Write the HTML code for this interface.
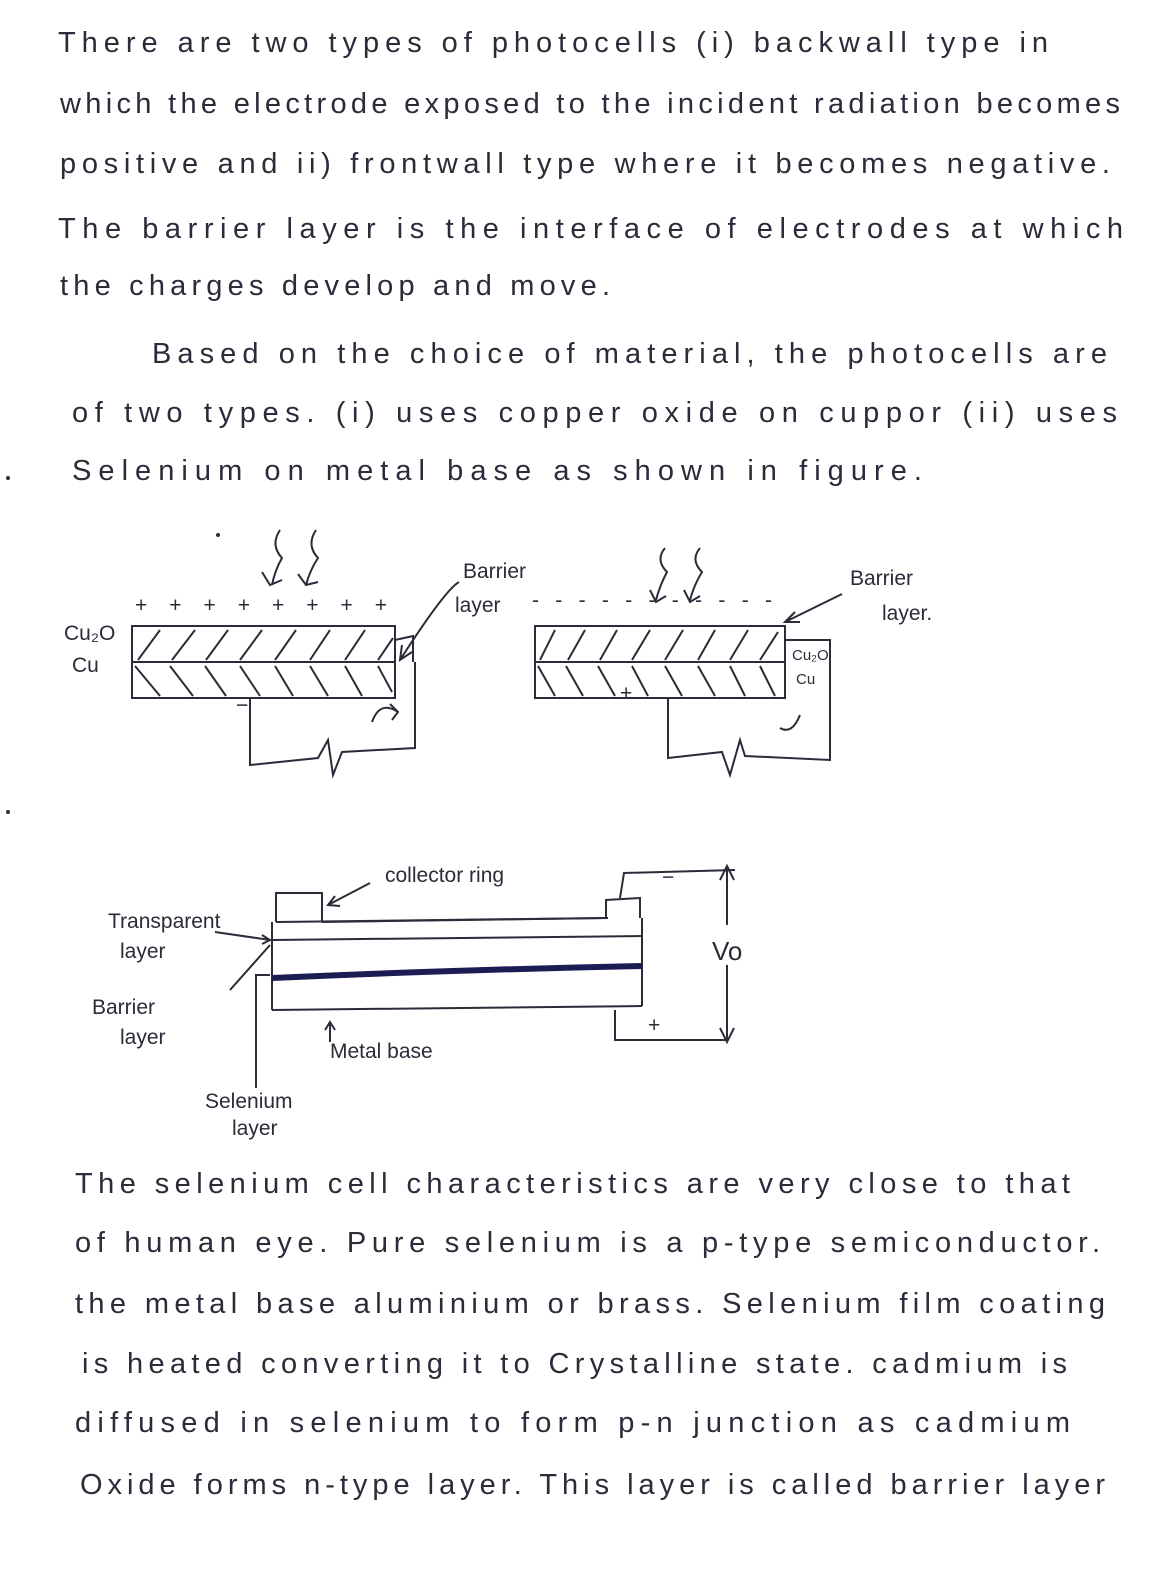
<!DOCTYPE html>
<html><head><meta charset="utf-8"><style>
html,body{margin:0;padding:0;background:#fff;}
svg{display:block}
text{font-family:"Liberation Sans","DejaVu Sans",sans-serif;fill:#2b2b3a;}
.t{font-size:29px;}
.s{font-size:21px;}
.xs{font-size:15px;}
</style></head><body>
<svg width="1149" height="1591" viewBox="0 0 1149 1591" xmlns="http://www.w3.org/2000/svg">
<rect width="1149" height="1591" fill="#fff"/>
<g class="t">
<text x="58" y="52" textLength="990" lengthAdjust="spacing">There are two types of photocells (i) backwall type in</text>
<text x="60" y="113" textLength="1060" lengthAdjust="spacing">which the electrode exposed to the incident radiation becomes</text>
<text x="60" y="173" textLength="1050" lengthAdjust="spacing">positive and ii) frontwall type where it becomes negative.</text>
<text x="58" y="238" textLength="1065" lengthAdjust="spacing">The barrier layer is the interface of electrodes at which</text>
<text x="60" y="295" textLength="550" lengthAdjust="spacing">the charges develop and move.</text>
<text x="152" y="363" textLength="955" lengthAdjust="spacing">Based on the choice of material, the photocells are</text>
<text x="72" y="422" textLength="1045" lengthAdjust="spacing">of two types. (i) uses copper oxide on cuppor (ii) uses</text>
<text x="72" y="480" textLength="850" lengthAdjust="spacing">Selenium on metal base as shown in figure.</text>
</g>
<g class="t">
<text x="75" y="1193" textLength="995" lengthAdjust="spacing">The selenium cell characteristics are very close to that</text>
<text x="75" y="1252" textLength="1025" lengthAdjust="spacing">of human eye. Pure selenium is a p-type semiconductor.</text>
<text x="75" y="1313" textLength="1030" lengthAdjust="spacing">the metal base aluminium or brass. Selenium film coating</text>
<text x="82" y="1373" textLength="985" lengthAdjust="spacing">is heated converting it to Crystalline state. cadmium is</text>
<text x="75" y="1432" textLength="995" lengthAdjust="spacing">diffused in selenium to form p-n junction as cadmium</text>
<text x="80" y="1494" textLength="1025" lengthAdjust="spacing">Oxide forms n-type layer. This layer is called barrier layer</text>
</g>

<!-- Diagram 1 left -->
<g stroke="#2b2b3a" stroke-width="2" fill="none">
<rect x="132" y="626" width="263" height="72"/>
<line x1="132" y1="662" x2="395" y2="662"/>
<path d="M395 640 L413 636 L413 662"/>
<path d="M138 660 L160 630 M172 660 L195 630 M206 660 L228 630 M240 660 L262 630 M275 660 L296 630 M310 660 L330 630 M345 660 L365 630 M378 660 L393 638"/>
<path d="M135 666 L160 696 M170 666 L193 696 M205 666 L226 696 M240 666 L260 696 M275 666 L293 696 M310 666 L328 696 M345 666 L362 696 M378 666 L392 692"/>
<path d="M250 698 L250 765 L318 758 L328 740 L333 775 L342 752 L415 748 L415 662"/>
<path d="M372 722 Q380 700 398 712 M390 704 L398 712 L392 720"/>
<path d="M280 530 Q270 545 282 558 Q275 570 272 585 M262 572 L270 585 L282 580"/>
<path d="M316 530 Q306 545 318 558 Q310 570 306 585 M298 574 L306 585 L318 582"/>
<path d="M459 582 Q445 590 400 660 M402 645 L400 660 L412 652"/>
</g>
<g class="s">
<text x="135" y="612" textLength="252" lengthAdjust="spacing">+ + + + + + + +</text>
<text x="64" y="640">Cu₂O</text>
<text x="72" y="672">Cu</text>
<text x="236" y="712">−</text>
<text x="463" y="578" class="s">Barrier</text>
<text x="455" y="612">layer</text>
<text x="850" y="585">Barrier</text>
<text x="882" y="620">layer.</text>
<text x="620" y="700">+</text>
<text x="532" y="607" textLength="240" lengthAdjust="spacing">- - - - - - - - - - -</text>
</g>
<!-- Diagram 1 right -->
<g stroke="#2b2b3a" stroke-width="2" fill="none">
<rect x="535" y="626" width="250" height="72"/>
<line x1="535" y1="662" x2="785" y2="662"/>
<path d="M540 660 L555 630 M568 660 L585 630 M600 660 L617 630 M632 660 L650 630 M665 660 L683 630 M698 660 L715 630 M730 660 L748 630 M760 660 L778 632"/>
<path d="M538 666 L555 696 M566 666 L583 696 M598 666 L615 696 M632 666 L648 696 M665 666 L682 696 M698 666 L715 696 M730 666 L745 696 M760 666 L775 696"/>
<path d="M785 640 L830 640 L830 760 L745 756 L740 740 L730 775 L722 752 L668 758 L668 698"/>
<path d="M800 715 Q792 735 780 728"/>
<path d="M665 548 Q655 560 667 572 Q660 585 656 600 M650 590 L656 602 L666 596"/>
<path d="M700 548 Q690 560 702 572 Q694 585 690 600 M684 590 L690 602 L700 596"/>
<path d="M842 594 L785 622 M795 612 L785 622 L800 622"/>
</g>
<text class="xs" x="792" y="660">Cu₂O</text>
<text class="xs" x="796" y="684">Cu</text>
<circle cx="218" cy="535" r="2" fill="#2b2b3a"/>
<circle cx="8" cy="478" r="2" fill="#2b2b3a"/>
<circle cx="8" cy="812" r="2" fill="#2b2b3a"/>

<!-- Diagram 2 -->
<g stroke="#2b2b3a" stroke-width="2" fill="none">
<path d="M276 922 L276 893 L322 893 L322 922"/>
<line x1="322" y1="922" x2="608" y2="918"/>
<path d="M606 918 L606 900 L640 898 L640 918"/>
<line x1="272" y1="940" x2="642" y2="936"/>
<line x1="272" y1="1010" x2="642" y2="1006"/>
<line x1="272" y1="922" x2="272" y2="1010"/>
<line x1="276" y1="922" x2="606" y2="918"/>
<line x1="642" y1="918" x2="642" y2="1006"/>
<path d="M620 898 L624 873 L735 870"/>
<path d="M615 1010 L615 1040 L728 1040"/>
<path d="M727 868 L727 925 M727 965 L727 1040 M720 880 L727 866 L734 880 M720 1028 L727 1042 L734 1028"/>
<path d="M370 883 L328 905 M335 896 L328 905 L340 906"/>
<path d="M215 932 L270 940 M262 935 L270 940 L262 944"/>
<path d="M230 990 L270 945"/>
<path d="M256 1088 L256 975 L270 975"/>
<path d="M330 1042 L330 1022 M325 1030 L330 1022 L335 1030"/>
</g>
<path d="M272 978 Q450 970 642 966" stroke="#1c1c55" stroke-width="6" fill="none"/>
<g class="s">
<text x="385" y="882">collector ring</text>
<text x="108" y="928">Transparent</text>
<text x="120" y="958">layer</text>
<text x="92" y="1014">Barrier</text>
<text x="120" y="1044">layer</text>
<text x="330" y="1058">Metal base</text>
<text x="205" y="1108">Selenium</text>
<text x="232" y="1135">layer</text>
<text x="712" y="960" style="font-size:26px">Vo</text>
<text x="662" y="884">−</text>
<text x="648" y="1032">+</text>
</g>
</svg>
</body></html>
